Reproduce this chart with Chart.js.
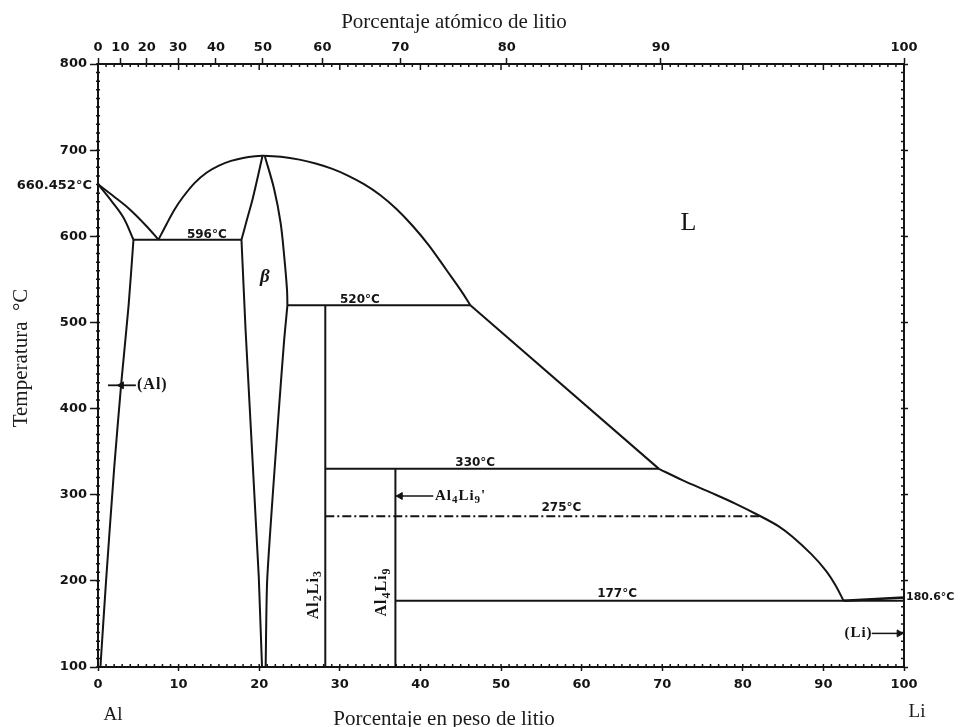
<!DOCTYPE html>
<html><head><meta charset="utf-8">
<script src="https://cdn.jsdelivr.net/npm/chart.js@4.4.1/dist/chart.umd.min.js"></script>
<style>html,body{margin:0;padding:0;background:#fff;}#wrap{width:970px;height:727px;position:relative;}</style>
</head><body><div id="wrap"><canvas id="c"></canvas></div>
<script>
// ---------- data: [wt% Li, °C] ----------
const liquidusAlSide = [[0,660.452],[2,646],[3.85,632],[6,612],[7.5,596]];
const liquidusBeta = [[7.5,596],[8.5,614],[9.5,631],[10.5,645],[12,662],[13.5,674],[15,682],[16.5,687.5],[18,691],[19.5,693],[20.5,693.5],[22.7,692.3],[25,689],[27,684.5],[29,678.5],[31,670.5],[33,660.5],[35,648],[37,632],[39,612.5],[41,590],[43.3,560],[45,537.5],[46.2,520]];
const liquidusMid = [[46.2,520],[69.6,330]];
const liquidusLi = [[69.6,330],[72.5,317],[75.9,303],[79,290],[82.2,275],[84.5,263],[86.2,251],[88.5,231],[90.3,212],[91.5,195],[92.5,177]];
const solidusAl = [[0,660.452],[1.75,640],[3.2,621],[4.4,596]];
const solvusAl = [[4.4,596],[3.8,520],[2.9,431],[2.0,330],[1.0,200],[0.3,100]];
const betaLeftSolidus = [[17.8,596],[18.5,620],[19.2,644],[19.85,670],[20.4,693]];
const betaLeftSolvus = [[17.8,596],[18.3,493],[19.95,204],[20.35,100]];
const betaRightSolidus = [[20.7,693],[21.85,655],[22.65,616],[23.1,577],[23.45,538],[23.5,520]];
const betaRightSolvus = [[23.5,520],[23.35,505],[23.1,480],[22.45,400],[21.0,203],[20.8,100]];
const line596 = [[4.4,596],[17.8,596]];
const line520 = [[23.5,520],[46.2,520]];
const line330 = [[28.2,330],[69.6,330]];
const line275 = [[28.2,275],[82.2,275]];
const line177 = [[36.9,177],[100,177]];
const liSolidus = [[92.5,177],[100,180.6]];
const al2li3Line = [[28.2,520],[28.2,100]];
const al4li9Line = [[36.9,330],[36.9,100]];
const arrowAl = [[1.24,427],[4.7,427]];
const arrowAl4Li9p = [[36.9,298.5],[41.6,298.5]];
const arrowLi = [[96.0,139],[99.8,139]];
const arrowHeadsLeft = [[2.9,427],[37.5,298.5]];
const arrowHeadsRight = [[99.4,139]];

// tick labels
const weightTicks = [0,10,20,30,40,50,60,70,80,90,100];
const atomicTicks = [0,10,20,30,40,50,60,70,80,90,100];
const tempTicks = [100,200,300,400,500,600,700,800];

// annotation texts
const tempLabels = ['596°C','520°C','330°C','275°C','177°C'];
const tempLabelAt = [[13.5,602],[32.5,526],[46.8,337],[57.5,285],[64.4,185]];
const meltAl = '660.452°C';
const meltLi = '180.6°C';

function atToWt(a){ const mLi=6.941, mAl=26.982; return 100*a*mLi/(a*mLi+(100-a)*mAl); }
const pts = arr => arr.map(p => ({x:p[0], y:p[1]}));

const INK = '#141414';
function lineDs(arr, extra){
  return Object.assign({data:pts(arr), showLine:true, borderColor:INK, borderWidth:2, pointRadius:0, fill:false, tension:0, xAxisID:'x', yAxisID:'y'}, extra||{});
}
const curve = {tension:0.35};

const datasets = [
  lineDs(liquidusAlSide, curve),
  lineDs(liquidusBeta, curve),
  lineDs(liquidusMid),
  lineDs(liquidusLi, curve),
  lineDs(solidusAl, curve),
  lineDs(solvusAl, {tension:0.2}),
  lineDs(betaLeftSolidus, curve),
  lineDs(betaLeftSolvus),
  lineDs(betaRightSolidus, curve),
  lineDs(betaRightSolvus, {tension:0.2}),
  lineDs(line596), lineDs(line520), lineDs(line330),
  lineDs(line275, {borderDash:[9,3,2,3], borderWidth:1.8}),
  lineDs(line177), lineDs(liSolidus, {borderWidth:2.5}),
  lineDs(al2li3Line), lineDs(al4li9Line),
  lineDs(arrowAl, {borderWidth:1.8}), lineDs(arrowAl4Li9p, {borderWidth:1.5}), lineDs(arrowLi, {borderWidth:1.5}),
  {data:pts(arrowHeadsLeft), showLine:false, pointStyle:'triangle', rotation:-90, pointRadius:4, backgroundColor:INK, borderColor:INK, borderWidth:1, xAxisID:'x', yAxisID:'y'},
  {data:pts(arrowHeadsRight), showLine:false, pointStyle:'triangle', rotation:90, pointRadius:4, backgroundColor:INK, borderColor:INK, borderWidth:1, xAxisID:'x', yAxisID:'y'}
];

const tickFont = {family:'DejaVu Sans', size:13, weight:'bold'};
const SERIF = '"Liberation Serif"';

function rich(ctx, parts, x, y, big, small, align){
  let w = 0;
  parts.forEach(p => { ctx.font = 'bold ' + (p[1]?small:big) + 'px ' + SERIF; w += ctx.measureText(p[0]).width; });
  let cx = align === 'center' ? x - w/2 : x;
  parts.forEach(p => {
    ctx.font = 'bold ' + (p[1]?small:big) + 'px ' + SERIF;
    ctx.fillText(p[0], cx, y + (p[1] ? big*0.3 : 0));
    cx += ctx.measureText(p[0]).width;
  });
}

const decor = {
  id:'decor',
  afterDraw(chart){
    const ctx = chart.ctx, xs = chart.scales.x, ys = chart.scales.y, a = chart.chartArea;
    ctx.save();
    ctx.strokeStyle = INK; ctx.fillStyle = INK; ctx.lineWidth = 1.5;
    ctx.beginPath();
    for (let t = 100; t <= 800; t += 10){
      const y = ys.getPixelForValue(t);
      ctx.moveTo(a.left-2, y); ctx.lineTo(a.left+2, y);
      ctx.moveTo(a.right-3, y); ctx.lineTo(a.right, y);
    }
    for (let w = 0; w <= 100; w += 1){
      const x = xs.getPixelForValue(w);
      ctx.moveTo(x, a.bottom-3); ctx.lineTo(x, a.bottom);
      ctx.moveTo(x, a.top); ctx.lineTo(x, a.top+3);
    }
    for (let w = 10; w < 100; w += 10){
      const x = xs.getPixelForValue(w);
      ctx.moveTo(x, a.top); ctx.lineTo(x, a.top+6);
    }
    ctx.stroke();

    const P = (w,t) => [xs.getPixelForValue(w), ys.getPixelForValue(t)];
    ctx.textBaseline = 'middle';
    ctx.font = 'bold 12px "DejaVu Sans"'; ctx.textAlign = 'center';
    tempLabels.forEach((s,i) => { const p = P(tempLabelAt[i][0], tempLabelAt[i][1]); ctx.fillText(s, p[0], p[1]); });
    ctx.font = 'bold 13px "DejaVu Sans"'; ctx.textAlign = 'right';
    let p = P(-0.75, 658.4); ctx.fillText(meltAl, p[0], p[1]);
    ctx.font = 'bold 11px "DejaVu Sans"'; ctx.textAlign = 'left';
    p = P(100.25, 181.6); ctx.fillText(meltLi, p[0], p[1]);
    ctx.textAlign = 'center';
    ctx.font = 'italic bold 19px ' + SERIF;
    p = P(20.7, 552.7); ctx.fillText('β', p[0], p[1]);
    ctx.font = '26px ' + SERIF;
    p = P(73.25, 615.4); ctx.fillText('L', p[0], p[1]);
    ctx.letterSpacing = '1px';
    ctx.textAlign = 'left';
    ctx.font = 'bold 16px ' + SERIF;
    p = P(4.84, 427); ctx.fillText('(Al)', p[0], p[1]);
    ctx.textAlign = 'right';
    ctx.font = 'bold 15px ' + SERIF;
    p = P(96.1, 139); ctx.fillText('(Li)', p[0], p[1]);
    ctx.textAlign = 'left';
    p = P(41.8, 298.5);
    rich(ctx, [['Al',0],['4',1],['Li',0],['9',1],["'",0]], p[0], p[1], 15, 11, 'left');
    [[26.75,184,[['Al',0],['2',1],['Li',0],['3',1]]],[35.2,187,[['Al',0],['4',1],['Li',0],['9',1]]]].forEach(v => {
      const q = P(v[0], v[1]);
      ctx.save(); ctx.translate(q[0], q[1]); ctx.rotate(-Math.PI/2);
      rich(ctx, v[2], 0, 0, 16, 12, 'center');
      ctx.restore();
    });
    ctx.letterSpacing = '0px';
    ctx.fillStyle = '#1a1a1a';
    ctx.font = '21px ' + SERIF; ctx.textAlign = 'center'; ctx.textBaseline = 'alphabetic';
    ctx.fillText('Porcentaje atómico de litio', 454, 28);
    ctx.fillText('Porcentaje en peso de litio', 444, 725);
    ctx.save(); ctx.translate(27, 358); ctx.rotate(-Math.PI/2);
    ctx.fillText('Temperatura  °C', 0, 0); ctx.restore();
    ctx.font = '19px ' + SERIF;
    ctx.fillText('Al', 113, 720);
    ctx.fillText('Li', 917, 717);
    ctx.restore();
  }
};

new Chart(document.getElementById('c'), {
  type:'scatter',
  data:{datasets},
  options:{
    responsive:true, maintainAspectRatio:false, animation:false, devicePixelRatio:1,
    layout:{padding:0},
    plugins:{legend:{display:false}, tooltip:{enabled:false}},
    scales:{
      x:{type:'linear', position:'bottom', min:0, max:100,
         afterBuildTicks(s){ s.ticks = weightTicks.map(v => ({value:v})); },
         ticks:{autoSkip:false, maxRotation:0, color:INK, font:tickFont, padding:6},
         grid:{drawOnChartArea:false, tickLength:4, color:INK, tickWidth:1.5},
         border:{color:INK, width:2},
         afterFit(s){ s.height = 60; }},
      xTop:{type:'linear', position:'top', min:0, max:100,
         afterBuildTicks(s){ s.ticks = atomicTicks.map(a => ({value:atToWt(a)})); },
         ticks:{autoSkip:false, maxRotation:0, color:INK, font:tickFont, padding:3, callback:(v,i) => String(atomicTicks[i])},
         grid:{drawOnChartArea:false, tickLength:6, color:INK, tickWidth:1.5},
         border:{color:INK, width:2},
         afterFit(s){ s.height = 64; }},
      y:{type:'linear', position:'left', min:100, max:800,
         afterBuildTicks(s){ s.ticks = tempTicks.map(v => ({value:v})); },
         ticks:{color:INK, font:tickFont, padding:3},
         grid:{drawOnChartArea:false, tickLength:8, color:INK, tickWidth:1.5},
         border:{color:INK, width:2},
         afterFit(s){ s.width = 98; }},
      yRight:{type:'linear', position:'right', min:100, max:800,
         afterBuildTicks(s){ s.ticks = tempTicks.map(v => ({value:v})); },
         ticks:{display:false},
         grid:{drawOnChartArea:false, tickLength:4, color:INK, tickWidth:1.5},
         border:{color:INK, width:2},
         afterFit(s){ s.width = 66; }}
    }
  },
  plugins:[decor]
});
</script></body></html>
